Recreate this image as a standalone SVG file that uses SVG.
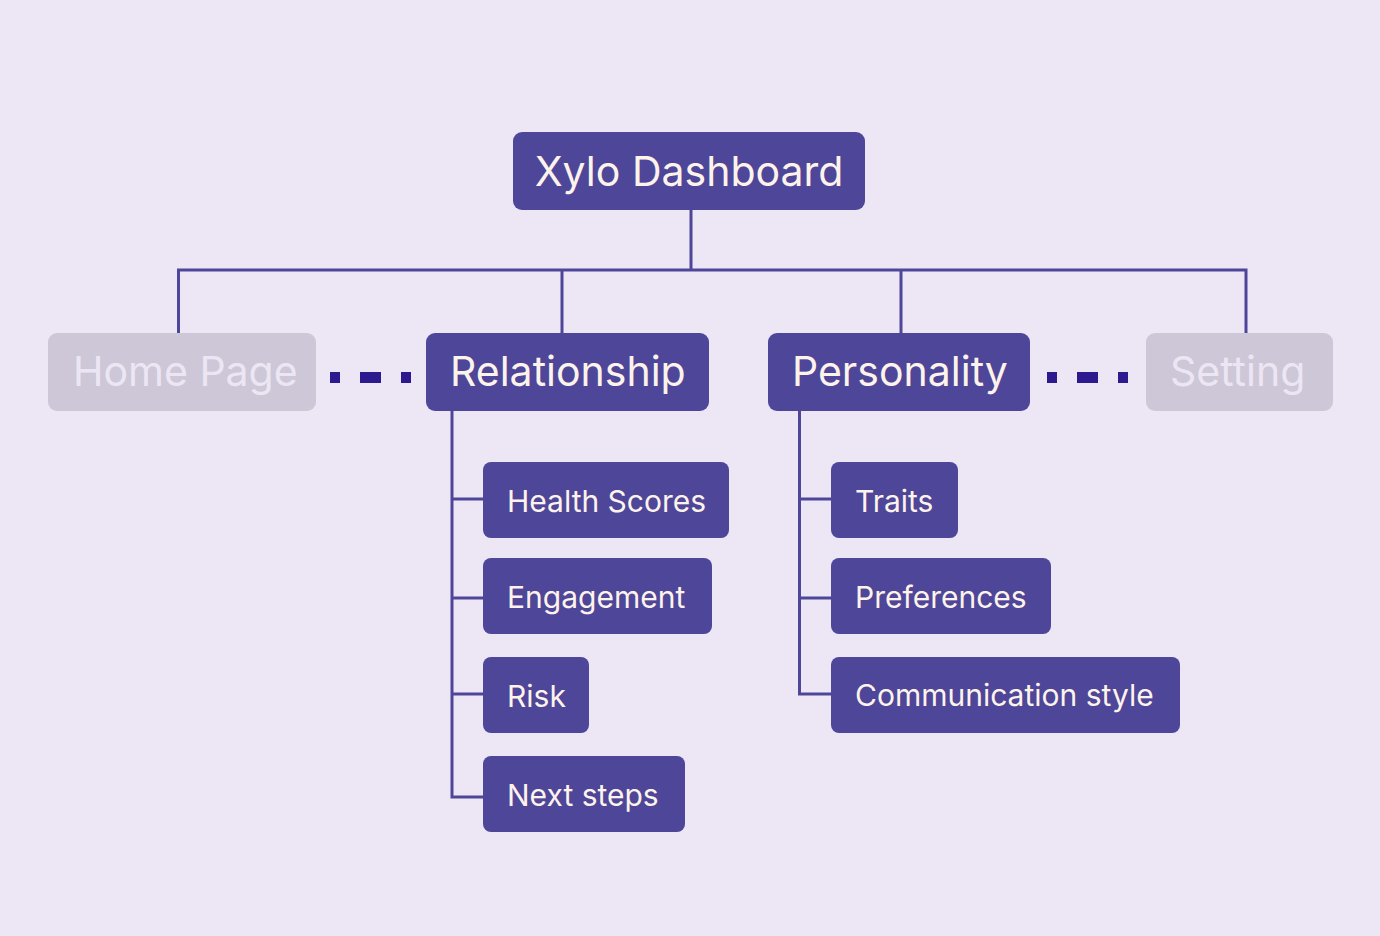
<svg xmlns="http://www.w3.org/2000/svg" width="1380" height="936" viewBox="0 0 1380 936">
<style>
.box{fill:#4e4699}
.off{fill:#cec7d7}
.t{font-family:Inter,"Noto Sans",sans-serif;fill:#fdf3ea}
.toff{font-family:Inter,"Noto Sans",sans-serif;fill:#ece6f4}
.l1{font-size:41px}
.l2{font-size:30px}
.ln{fill:none;stroke:#4e4699;stroke-width:3}
.dot{fill:#2e1a8f}
</style>
<rect width="1380" height="936" fill="#ede7f5"/>
<g id="connectors">
<path class="ln" d="M691 210V270M178.5 333V270H1246V333M562 270V333M901 270V333"/>
<path class="ln" d="M452 411V797H483M452 499H483M452 598H483M452 694H483"/>
<path class="ln" d="M799.5 411V694H831M799.5 499H831M799.5 598H831"/>
<rect class="dot" x="330" y="372" width="10" height="11"/>
<rect class="dot" x="360" y="372" width="21" height="11"/>
<rect class="dot" x="401" y="372" width="10" height="11"/>
<rect class="dot" x="1047" y="372" width="10" height="11"/>
<rect class="dot" x="1077" y="372" width="21" height="11"/>
<rect class="dot" x="1118" y="372" width="10" height="11"/>
</g>
<g id="root"><rect class="box" x="513" y="132" width="352" height="78" rx="9"/><text class="t l1" x="689" y="186" text-anchor="middle">Xylo Dashboard</text></g>
<g id="home"><rect class="off" x="48" y="333" width="268" height="78" rx="9"/><text class="toff l1" x="73" y="386">Home Page</text></g>
<g id="relationship"><rect class="box" x="426" y="333" width="283" height="78" rx="9"/><text class="t l1" x="450" y="386">Relationship</text></g>
<g id="personality"><rect class="box" x="768" y="333" width="262" height="78" rx="9"/><text class="t l1" x="792" y="386">Personality</text></g>
<g id="setting"><rect class="off" x="1146" y="333" width="187" height="78" rx="9"/><text class="toff l1" x="1170" y="386">Setting</text></g>
<g id="health"><rect class="box" x="483" y="462" width="246" height="76" rx="8"/><text class="t l2" x="507" y="512">Health Scores</text></g>
<g id="engagement"><rect class="box" x="483" y="558" width="229" height="76" rx="8"/><text class="t l2" x="507" y="608">Engagement</text></g>
<g id="risk"><rect class="box" x="483" y="657" width="106" height="76" rx="8"/><text class="t l2" x="507" y="707">Risk</text></g>
<g id="next"><rect class="box" x="483" y="756" width="202" height="76" rx="8"/><text class="t l2" x="507" y="806">Next steps</text></g>
<g id="traits"><rect class="box" x="831" y="462" width="127" height="76" rx="8"/><text class="t l2" x="855" y="512">Traits</text></g>
<g id="preferences"><rect class="box" x="831" y="558" width="220" height="76" rx="8"/><text class="t l2" x="855" y="608">Preferences</text></g>
<g id="communication"><rect class="box" x="831" y="657" width="349" height="76" rx="8"/><text class="t l2" x="855" y="706">Communication style</text></g>
</svg>
